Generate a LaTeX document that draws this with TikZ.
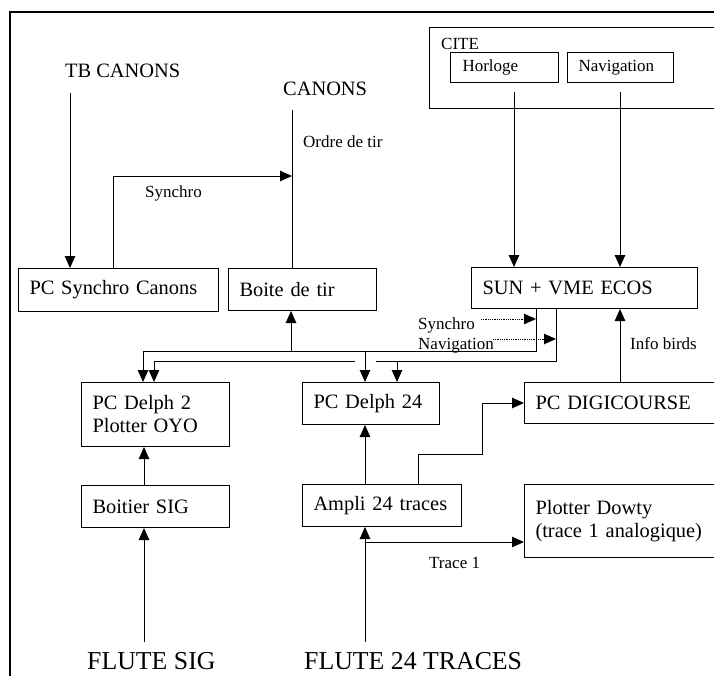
\documentclass[tikz,border=0pt]{standalone}
\usepackage{fontspec}
\setmainfont{Liberation Serif}
\usetikzlibrary{arrows.meta}
\newcommand\fsml{\fontsize{17}{20}\selectfont}
\newcommand\fmid{\fontsize{20.4}{23}\selectfont}
\newcommand\fbig{\fontsize{25.8}{30}\selectfont}
\tikzset{
  box/.style={draw, line width=1pt, anchor=north west, inner xsep=11pt, inner ysep=0pt, align=left, font=\fmid},
  sbox/.style={box, font=\fsml},
  lbl/.style={anchor=base west, inner sep=0pt, font=\fsml},
  mlbl/.style={anchor=base west, inner sep=0pt, font=\fmid},
  blbl/.style={anchor=base west, inner sep=0pt, font=\fbig},
  ln/.style={line width=1pt},
  arr/.style={ln, -{Triangle[length=12pt,width=10.5pt]}},
  darr/.style={line width=0.8pt, densely dotted, -{Triangle[length=12pt,width=10.5pt]}},
}
\begin{document}
\begin{tikzpicture}[x=1pt,y=-1pt]
\clip (0,0) rectangle (714,675);
\fill[white] (0,0) rectangle (714,675);
% frame
\draw[line width=2.4pt] (10,680) -- (10,12) -- (720,12);

% boxes
\node[box, text width=178pt, minimum height=43pt] (psc) at (18,268) {\mbox{PC Synchro Canons}};
\node[box, text width=126pt, minimum height=42pt] (bdt) at (228,268) {\mbox{Boite de tir}};
\node[box, text width=204pt, minimum height=41pt] (sun) at (471,267) {\mbox{SUN + VME ECOS}};
\node[draw, line width=1pt, anchor=north west, inner sep=0pt, minimum width=300pt, minimum height=81pt] (cite) at (429,27) {};
\node[lbl] (citel) at (441,49) {CITE};
\node[sbox, inner xsep=12pt, text width=84pt, minimum height=30pt] (hor) at (450,52) {Horloge};
\node[sbox, inner xsep=11pt, text width=84pt, minimum height=30pt] (nav) at (567,52) {Navigation};
\node[box, text width=178pt, minimum height=41pt] (dig) at (524,382) {\mbox{PC DIGICOURSE}};
\node[box, text width=178pt, minimum height=73pt] (dow) at (524,484) {\mbox{Plotter Dowty}\\\mbox{(trace 1 analogique)}};
\node[box, text width=126pt, minimum height=64pt] (pd2) at (81,382) {\mbox{PC Delph 2}\\\mbox{Plotter OYO}};
\node[box, text width=126pt, minimum height=42pt] (bsig) at (81,485) {\mbox{Boitier SIG}};
\node[box, text width=115pt, minimum height=42pt] (pd24) at (302,382) {\mbox{PC Delph 24}};
\node[box, text width=137pt, minimum height=42pt] (amp) at (302,484) {\mbox{Ampli 24 traces}};

% labels
\node[mlbl] (tbc) at (65,77) {TB CANONS};
\node[mlbl] (can) at (283,95) {CANONS};
\node[lbl] (odt) at (303,147) {Ordre de tir};
\node[lbl] (syn1) at (145,197) {Synchro};
\node[lbl] (syn2) at (418,329) {Synchro};
\node[lbl] (navl) at (418,349) {Navigation};
\node[lbl] (ibl) at (630,349) {Info birds};
\node[lbl] (tr1) at (429,568) {Trace 1};
\node[blbl] (fsig) at (87,669) {FLUTE SIG};
\node[blbl] (f24) at (304,669) {FLUTE 24 TRACES};

% free ends and bends
\coordinate (tbe) at (70,93);
\coordinate (cae) at (292,110);
\coordinate (syc) at (113,176);
\coordinate (hoe) at (514,92);
\coordinate (nae) at (620,92);
\coordinate (ibx) at (620,0);
\coordinate (bdx) at (291,351);
\coordinate (b1r) at (536,351);
\coordinate (b1l) at (143,351);
\coordinate (b1m) at (365,351);
\coordinate (b2r) at (556,361);
\coordinate (b2g) at (376,361);
\coordinate (b2h) at (355,361);
\coordinate (b2l) at (154,361);
\coordinate (b2m) at (397,361);
\coordinate (ds1) at (481,319);
\coordinate (dn1) at (493,339);
\coordinate (sgx) at (144,0);
\coordinate (fse) at (144,642);
\coordinate (amx) at (365,0);
\coordinate (f2e) at (365,642);
\coordinate (t1s) at (365,542);
\coordinate (d1) at (418,454);
\coordinate (d2) at (482,454);
\coordinate (d3) at (482,403);

% connectors
\draw[arr] (tbe) -- (tbe |- psc.north);
\draw[ln] (cae) -- (cae |- bdt.north);
\draw[arr] (syc |- psc.north) -- (syc) -- (syc -| cae);
\draw[arr] (hoe) -- (hoe |- sun.north);
\draw[arr] (nae) -- (nae |- sun.north);
\draw[arr] (ibx |- dig.north) -- (ibx |- sun.south);
\draw[arr] (bdx) -- (bdx |- bdt.south);
\draw[ln] (b1r |- sun.south) -- (b1r) -- (b1l);
\draw[arr] (b1l) -- (b1l |- pd2.north);
\draw[arr] (b1m) -- (b1m |- pd24.north);
\draw[ln] (b2r |- sun.south) -- (b2r) -- (b2g);
\draw[ln] (b2h) -- (b2l);
\draw[arr] (b2l) -- (b2l |- pd2.north);
\draw[arr] (b2m) -- (b2m |- pd24.north);
\draw[darr] (ds1) -- (ds1 -| b1r);
\draw[darr] (dn1) -- (dn1 -| b2r);
\draw[arr] (sgx |- bsig.north) -- (sgx |- pd2.south);
\draw[arr] (fse) -- (fse |- bsig.south);
\draw[arr] (amx |- amp.north) -- (amx |- pd24.south);
\draw[arr] (f2e) -- (f2e |- amp.south);
\draw[arr] (t1s) -- (t1s -| dow.west);
\draw[arr] (d1 |- amp.north) -- (d1) -- (d2) -- (d3) -- (d3 -| dig.west);
\end{tikzpicture}
\end{document}
